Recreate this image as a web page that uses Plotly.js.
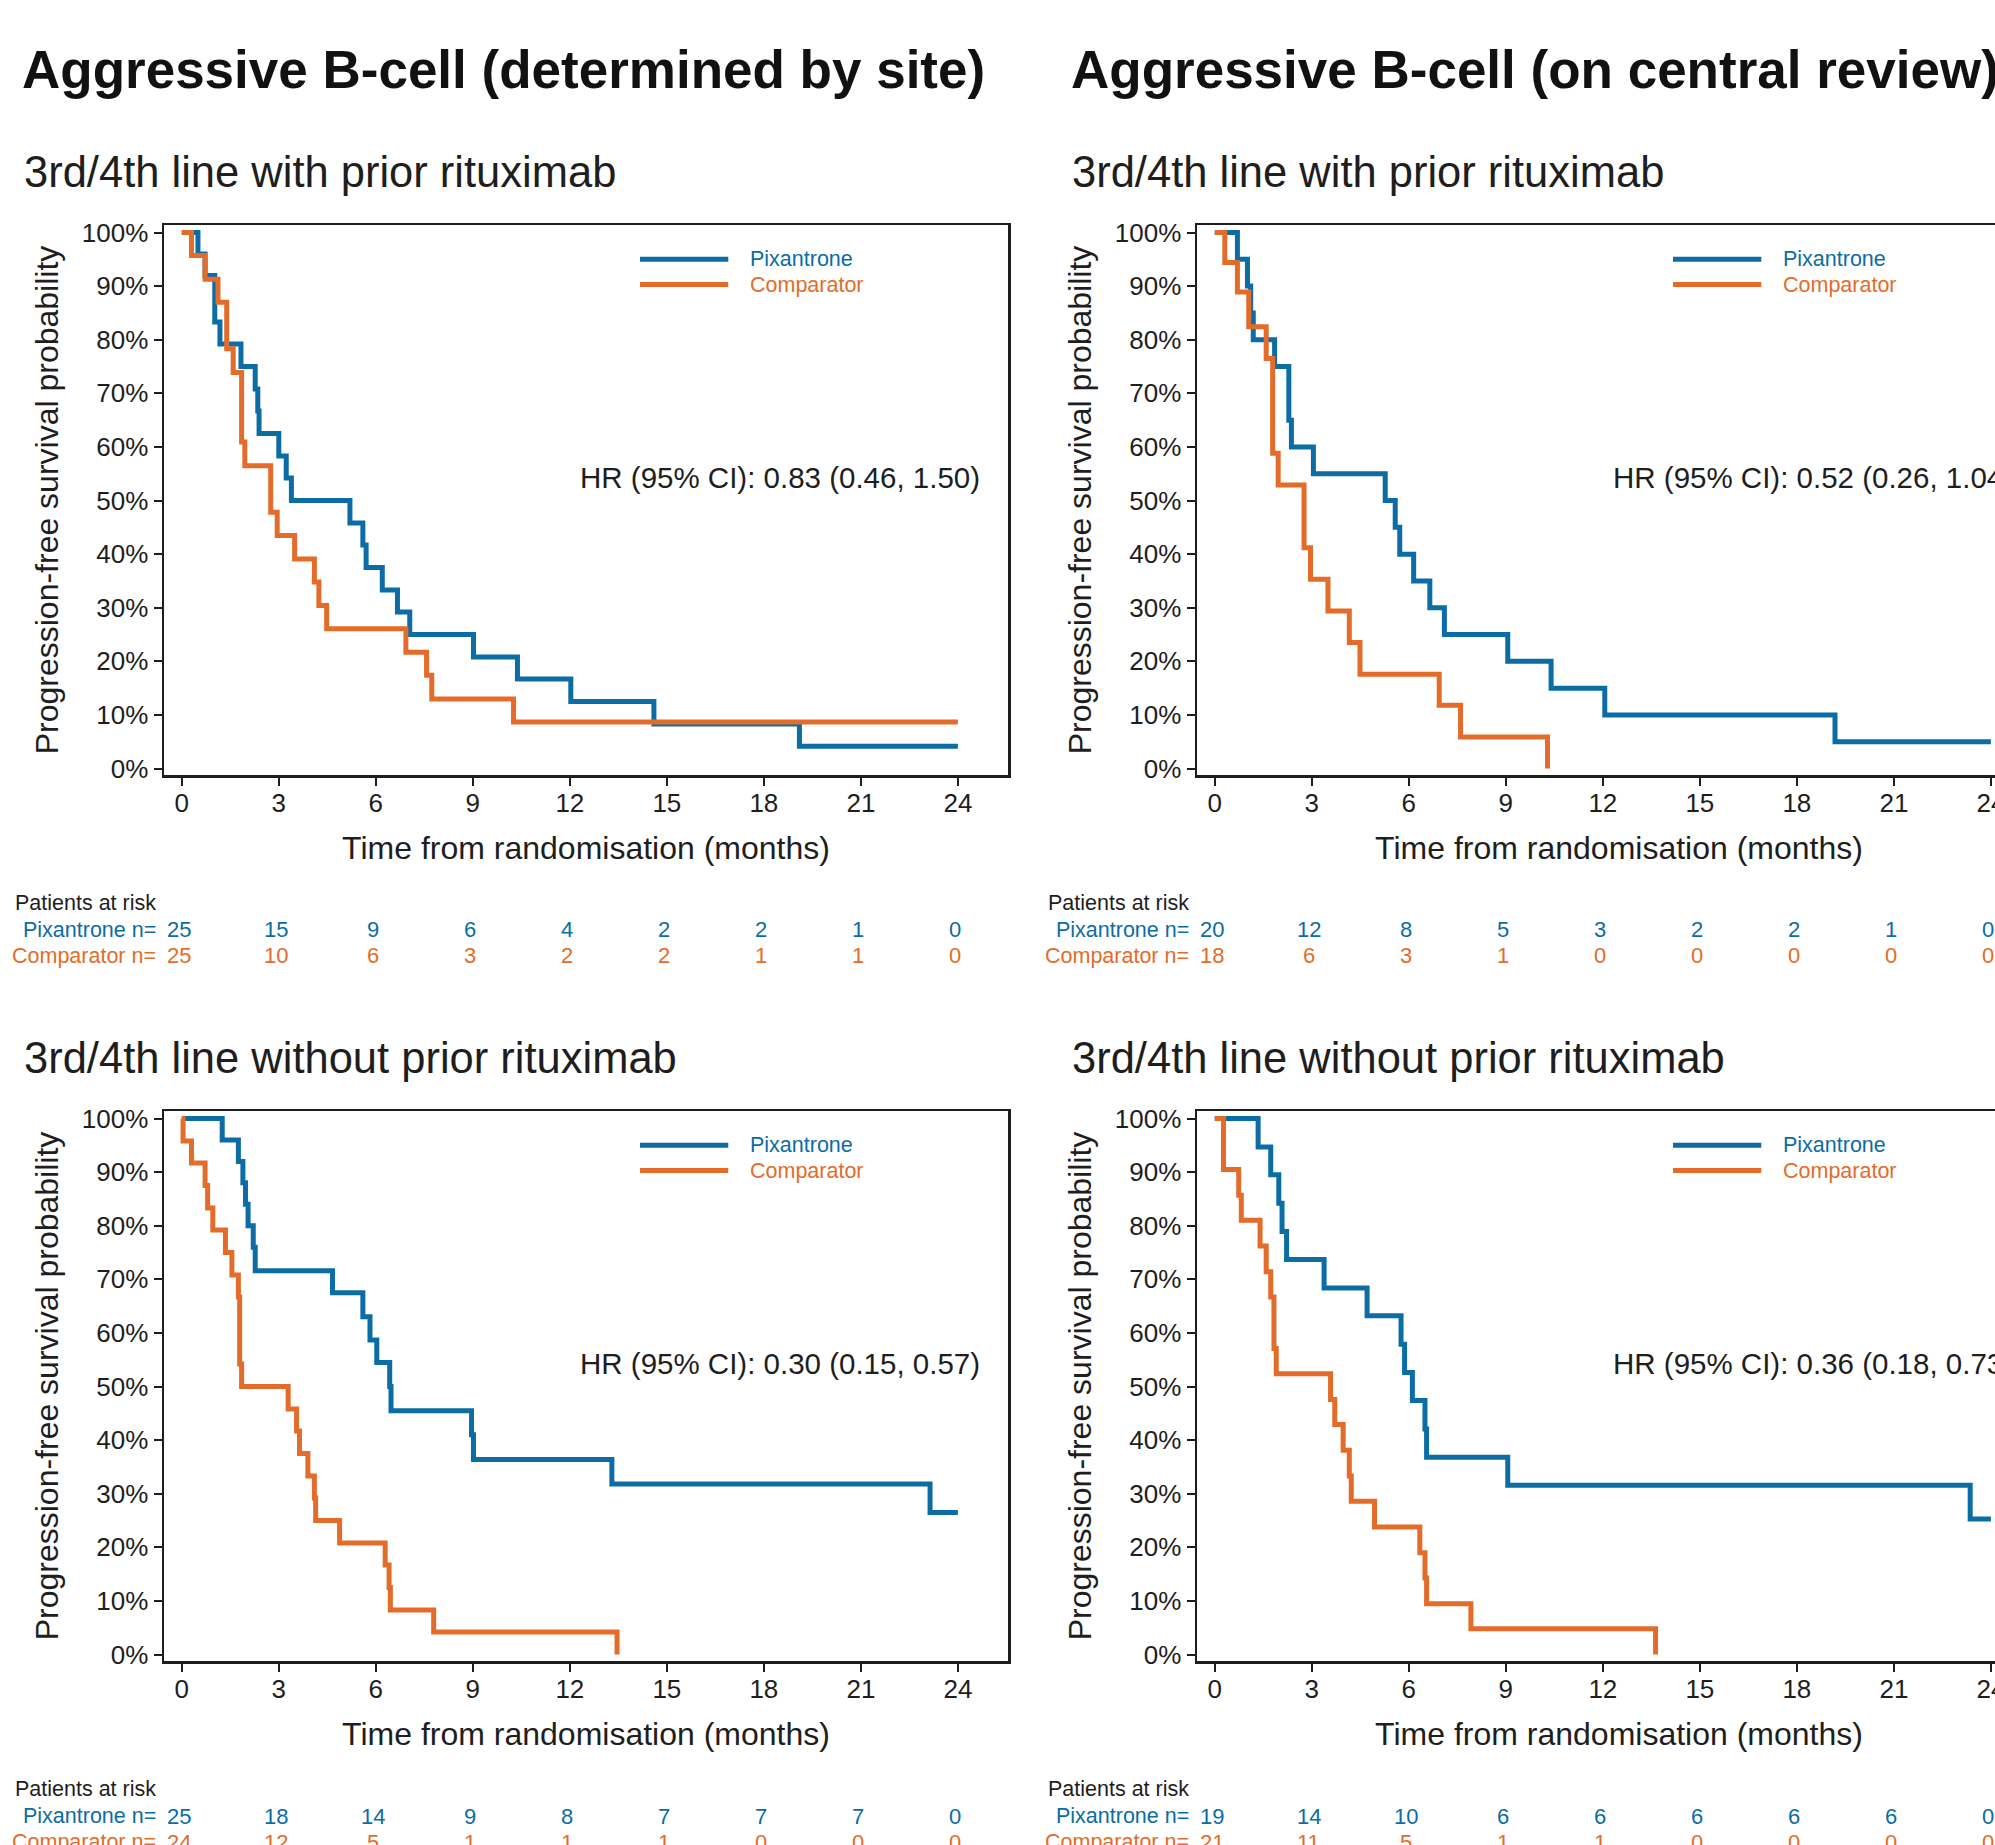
<!DOCTYPE html>
<html>
<head>
<meta charset="utf-8">
<script src="https://cdn.plot.ly/plotly-3.0.1.min.js"></script>
<style>
html, body { margin: 0; padding: 0; overflow: hidden; background: #ffffff; }
#chart { width: 2060px; height: 1845px; }
</style>
</head>
<body>
<div id="chart"></div>
<script>
// ---------------- DATA ----------------
const mainTitles = ["Aggressive B-cell (determined by site)", "Aggressive B-cell (on central review)"];
const subTitles = ["3rd/4th line with prior rituximab", "3rd/4th line without prior rituximab"];
const seriesNames = ["Pixantrone", "Comparator"];
const riskMonths = [0, 3, 6, 9, 12, 15, 18, 21, 24];
const xTickVals = [0, 3, 6, 9, 12, 15, 18, 21, 24];
const yTickVals = [0, 0.1, 0.2, 0.3, 0.4, 0.5, 0.6, 0.7, 0.8, 0.9, 1.0];

// Top-left: determined by site, with prior rituximab
const tlPixT = [0, 0.50, 0.72, 1.02, 1.18, 1.83, 2.27, 2.35, 2.39, 3.00, 3.23, 3.39, 5.20, 5.60, 5.70, 6.20, 6.67, 7.05, 9.02, 10.38, 12.03, 14.60, 19.10, 24.0];
const tlPixS = [1.0, 0.96, 0.92, 0.833, 0.792, 0.75, 0.708, 0.667, 0.625, 0.583, 0.542, 0.50, 0.458, 0.417, 0.375, 0.333, 0.292, 0.25, 0.208, 0.167, 0.125, 0.0833, 0.0417, 0.0417];
const tlCompT = [0, 0.30, 0.72, 1.12, 1.39, 1.59, 1.85, 1.95, 2.75, 2.95, 3.49, 4.10, 4.24, 4.48, 6.93, 7.57, 7.73, 10.26, 24.0];
const tlCompS = [1.0, 0.957, 0.913, 0.87, 0.783, 0.739, 0.609, 0.565, 0.478, 0.435, 0.391, 0.348, 0.304, 0.261, 0.217, 0.174, 0.13, 0.087, 0.087];
const tlRiskPix = [25, 15, 9, 6, 4, 2, 2, 1, 0];
const tlRiskComp = [25, 10, 6, 3, 2, 2, 1, 1, 0];
const tlHR = "HR (95% CI): 0.83 (0.46, 1.50)";

// Top-right: central review, with prior rituximab
const trPixT = [0, 0.70, 1.01, 1.11, 1.19, 1.85, 2.29, 2.37, 3.05, 5.27, 5.58, 5.72, 6.15, 6.65, 7.10, 9.06, 10.40, 12.06, 19.18, 24.0];
const trPixS = [1.0, 0.95, 0.90, 0.85, 0.80, 0.75, 0.65, 0.60, 0.55, 0.50, 0.45, 0.40, 0.35, 0.30, 0.25, 0.20, 0.15, 0.10, 0.05, 0.05];
const trCompT = [0, 0.31, 0.70, 1.05, 1.59, 1.79, 1.96, 2.76, 2.96, 3.50, 4.16, 4.49, 6.94, 7.60, 10.29];
const trCompS = [1.0, 0.944, 0.889, 0.824, 0.765, 0.588, 0.529, 0.412, 0.353, 0.294, 0.235, 0.176, 0.118, 0.059, 0.0];
const trRiskPix = [20, 12, 8, 5, 3, 2, 2, 1, 0];
const trRiskComp = [18, 6, 3, 1, 0, 0, 0, 0, 0];
const trHR = "HR (95% CI): 0.52 (0.26, 1.04)";

// Bottom-left: determined by site, without prior rituximab
const blPixT = [0, 1.25, 1.75, 1.89, 1.97, 2.05, 2.21, 2.27, 4.66, 5.60, 5.82, 6.03, 6.43, 6.47, 8.96, 9.02, 13.30, 23.14, 24.0];
const blPixS = [1.0, 0.96, 0.92, 0.88, 0.84, 0.80, 0.76, 0.716, 0.675, 0.630, 0.587, 0.545, 0.50, 0.455, 0.41, 0.364, 0.318, 0.265, 0.265];
const blCompT = [0, 0.04, 0.30, 0.72, 0.80, 0.96, 1.35, 1.55, 1.75, 1.79, 1.85, 3.29, 3.55, 3.64, 3.90, 4.10, 4.14, 4.88, 6.29, 6.41, 6.45, 7.79, 13.46];
const blCompS = [1.0, 0.958, 0.917, 0.875, 0.833, 0.792, 0.75, 0.708, 0.667, 0.542, 0.50, 0.458, 0.417, 0.375, 0.333, 0.292, 0.25, 0.208, 0.167, 0.125, 0.083, 0.042, 0.0];
const blRiskPix = [25, 18, 14, 9, 8, 7, 7, 7, 0];
const blRiskComp = [24, 12, 5, 1, 1, 1, 0, 0, 0];
const blHR = "HR (95% CI): 0.30 (0.15, 0.57)";

// Bottom-right: central review, without prior rituximab
const brPixT = [0, 1.34, 1.73, 1.98, 2.08, 2.22, 3.38, 4.71, 5.76, 5.87, 6.11, 6.50, 6.55, 9.06, 23.36, 24.0];
const brPixS = [1.0, 0.947, 0.895, 0.842, 0.789, 0.737, 0.684, 0.632, 0.579, 0.526, 0.474, 0.421, 0.368, 0.316, 0.253, 0.253];
const brCompT = [0, 0.27, 0.74, 0.82, 1.40, 1.59, 1.73, 1.83, 1.90, 3.58, 3.71, 3.97, 4.16, 4.22, 4.94, 6.34, 6.50, 6.55, 7.92, 13.63];
const brCompS = [1.0, 0.905, 0.857, 0.810, 0.762, 0.714, 0.667, 0.571, 0.524, 0.476, 0.429, 0.381, 0.333, 0.286, 0.238, 0.190, 0.143, 0.095, 0.048, 0.0];
const brRiskPix = [19, 14, 10, 6, 6, 6, 6, 6, 0];
const brRiskComp = [21, 11, 5, 1, 1, 0, 0, 0, 0];
const brHR = "HR (95% CI): 0.36 (0.18, 0.73)";

// ---------------- STYLE / LAYOUT ----------------
const W = 2060, H = 1845;
const FONT = "Liberation Sans, Arial, Helvetica, sans-serif";
const BLUE = "#0B6DA3", ORANGE = "#E36C2A", INK = "#1e1e1e";
const py = v => 1 - v / H;          // pixel-from-top -> paper y
const px = v => v / W;              // pixel-from-left -> paper x

const panels = [
  {ax: "", col: 0, row: 0, pix: [tlPixT, tlPixS], comp: [tlCompT, tlCompS], risk: [tlRiskPix, tlRiskComp], hr: tlHR},
  {ax: "2", col: 1, row: 0, pix: [trPixT, trPixS], comp: [trCompT, trCompS], risk: [trRiskPix, trRiskComp], hr: trHR},
  {ax: "3", col: 0, row: 1, pix: [blPixT, blPixS], comp: [blCompT, blCompS], risk: [blRiskPix, blRiskComp], hr: blHR},
  {ax: "4", col: 1, row: 1, pix: [brPixT, brPixS], comp: [brCompT, brCompS], risk: [brRiskPix, brRiskComp], hr: brHR}
];

const colLeft = [164, 1197], plotW = 844;
const rowTop = [225, 1111], plotH = 550;
const rowOff = [0, 886];
const subX = [22, 1070];
const titleX = [20, 1069];

const traces = [];
const layout = {
  width: W, height: H,
  margin: {l: 0, r: 0, t: 0, b: 0},
  paper_bgcolor: "#ffffff", plot_bgcolor: "#ffffff",
  font: {family: FONT, color: INK},
  showlegend: false,
  annotations: [], shapes: []
};

panels.forEach(p => {
  const xa = "x" + p.ax, ya = "y" + p.ax;
  const xKey = "xaxis" + p.ax, yKey = "yaxis" + p.ax;
  const L = colLeft[p.col], T = rowTop[p.row], off = rowOff[p.row];
  const lineStyle = {shape: "hv", width: 5};
  traces.push({x: p.pix[0], y: p.pix[1], type: "scatter", mode: "lines", name: seriesNames[0],
    xaxis: xa, yaxis: ya, line: Object.assign({color: BLUE}, lineStyle), hoverinfo: "skip"});
  traces.push({x: p.comp[0], y: p.comp[1], type: "scatter", mode: "lines", name: seriesNames[1],
    xaxis: xa, yaxis: ya, line: Object.assign({color: ORANGE}, lineStyle), hoverinfo: "skip"});

  layout[xKey] = {
    domain: [px(L), px(L + plotW)], anchor: ya, range: [-0.55, 25.55],
    tickvals: xTickVals, ticktext: xTickVals.map(String),
    showline: true, mirror: true, linecolor: INK, linewidth: 2.5,
    ticks: "outside", ticklen: 8, tickwidth: 2, tickcolor: INK,
    showgrid: false, zeroline: false, ticklabelstandoff: -5,
    tickfont: {size: 26, color: INK, family: FONT},
    title: {text: "Time from randomisation (months)", font: {size: 32, color: INK, family: FONT}, standoff: 20},
    automargin: false
  };
  layout[yKey] = {
    domain: [py(T + plotH), py(T)], anchor: xa, range: [-0.012, 1.014],
    tickvals: yTickVals, tickformat: ".0%",
    showline: true, mirror: true, linecolor: INK, linewidth: 2.5,
    ticks: "outside", ticklen: 8, tickwidth: 2, tickcolor: INK,
    showgrid: false, zeroline: false, ticklabelstandoff: 0,
    tickfont: {size: 26, color: INK, family: FONT},
    title: {text: "Progression-free survival probability", font: {size: 32, color: INK, family: FONT}, standoff: 14},
    automargin: false
  };

  // legend (drawn inside the panel)
  [[seriesNames[0], BLUE, 0.95], [seriesNames[1], ORANGE, 0.903]].forEach(([nm, c, yy]) => {
    layout.shapes.push({type: "line", xref: xa, yref: ya, x0: 14.17, x1: 16.9, y0: yy, y1: yy,
      line: {color: c, width: 5}});
    layout.annotations.push({xref: xa, yref: ya, x: 17.5, y: yy, xanchor: "left", yanchor: "middle",
      text: nm, showarrow: false, font: {size: 21.5, color: c, family: FONT}});
  });

  // HR text
  layout.annotations.push({xref: xa, yref: ya, x: 24.75, y: 0.543, xanchor: "right", yanchor: "middle",
    text: p.hr, showarrow: false, font: {size: 29.5, color: INK, family: FONT}});

  // subtitle
  layout.annotations.push({xref: "paper", yref: "paper", x: px(subX[p.col]), y: py(172 + off),
    xanchor: "left", yanchor: "middle", text: subTitles[p.row], showarrow: false,
    font: {size: 43.5, color: INK, family: FONT}});

  // risk table
  layout.annotations.push({xref: "paper", yref: "paper", x: px(L - 151), y: py(903 + off),
    xanchor: "left", yanchor: "middle", text: "Patients at risk", showarrow: false,
    font: {size: 21.5, color: INK, family: FONT}});
  [[seriesNames[0], BLUE, 930, p.risk[0]], [seriesNames[1], ORANGE, 956, p.risk[1]]].forEach(([nm, c, yv, vals]) => {
    layout.annotations.push({xref: "paper", yref: "paper", x: px(L - 6), y: py(yv + off),
      xanchor: "right", yanchor: "middle", text: nm + " n=", showarrow: false,
      font: {size: 21.5, color: c, family: FONT}});
    vals.forEach((v, i) => {
      layout.annotations.push({xref: xa, yref: "paper", x: riskMonths[i], y: py(yv + off), xshift: -3,
        xanchor: "center", yanchor: "middle", text: String(v), showarrow: false,
        font: {size: 22, color: c, family: FONT}});
    });
  });
});

// main titles
[0, 1].forEach(i => {
  layout.annotations.push({xref: "paper", yref: "paper", x: px(titleX[i]), y: py(70),
    xanchor: "left", yanchor: "middle", text: "<b>" + mainTitles[i] + "</b>", showarrow: false,
    font: {size: 53, color: "#111111", family: FONT}});
});

Plotly.newPlot("chart", traces, layout, {staticPlot: true, displayModeBar: false});
</script>
</body>
</html>
